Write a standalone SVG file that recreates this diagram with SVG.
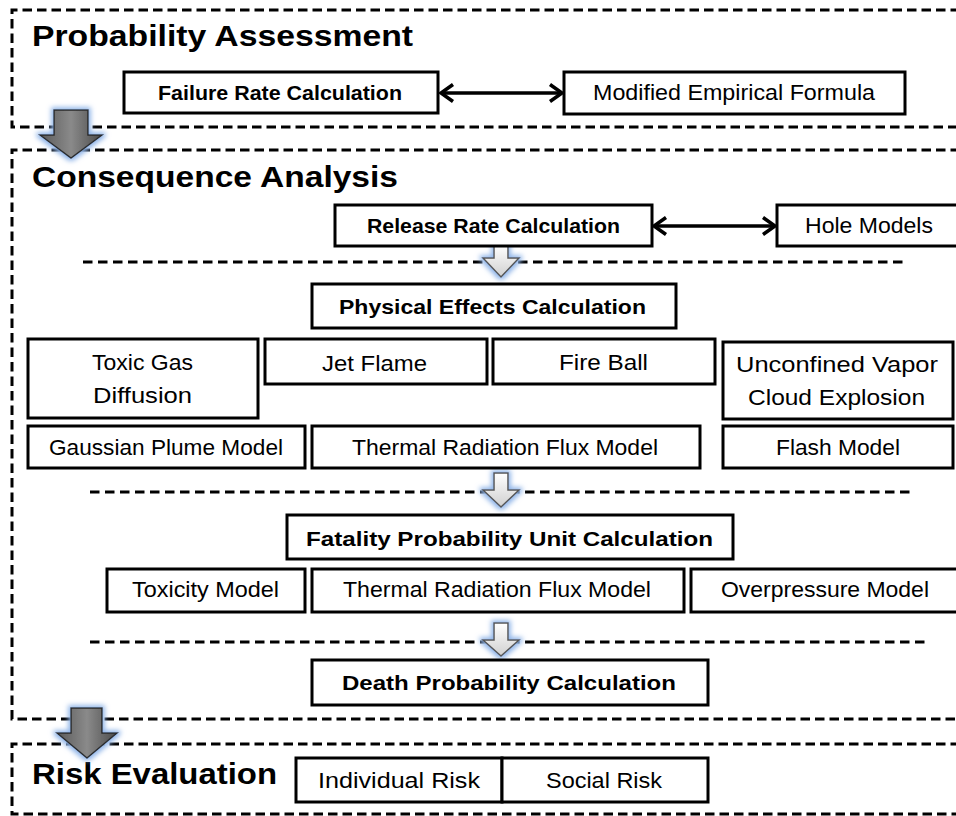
<svg xmlns="http://www.w3.org/2000/svg" width="956" height="816" viewBox="0 0 956 816">
<defs>
<style>
.frame{fill:none;stroke:#000;stroke-width:3;stroke-dasharray:9.5 5}
.sep{fill:none;stroke:#000;stroke-width:3;stroke-dasharray:9.5 5.5}
.box{fill:#fff;stroke:#000;stroke-width:3}
.title{font-family:"Liberation Sans",Arial,sans-serif;font-weight:bold;font-size:30px;fill:#000}
.t{font-family:"Liberation Sans",Arial,sans-serif;font-size:22px;fill:#000;text-anchor:middle}
.b{font-family:"Liberation Sans",Arial,sans-serif;font-size:21px;font-weight:bold;fill:#000;text-anchor:middle}
.conn{fill:none;stroke:#000;stroke-width:3.5}
.big{fill:url(#gDark);stroke:#2a2a2a;stroke-width:1.5;filter:url(#glow)}
.small{fill:url(#gLight);stroke:#555;stroke-width:1.5;filter:url(#glow)}
</style>
<linearGradient id="gDark" x1="0" y1="0" x2="1" y2="0">
<stop offset="0" stop-color="#5a5a5a"/><stop offset="0.5" stop-color="#8a8a8a"/><stop offset="1" stop-color="#4a4a4a"/>
</linearGradient>
<linearGradient id="gLight" x1="0" y1="0" x2="0" y2="1">
<stop offset="0" stop-color="#ffffff"/><stop offset="1" stop-color="#d0d0d0"/>
</linearGradient>
<filter id="glow" x="-50%" y="-50%" width="200%" height="200%">
<feMorphology in="SourceAlpha" operator="dilate" radius="2" result="d"/>
<feGaussianBlur in="d" stdDeviation="2.5" result="bl"/>
<feFlood flood-color="#8fb4e8"/>
<feComposite in2="bl" operator="in" result="g"/>
<feMerge><feMergeNode in="g"/><feMergeNode in="SourceGraphic"/></feMerge>
</filter>
<marker id="chev" markerUnits="userSpaceOnUse" markerWidth="20" markerHeight="20" viewBox="0 0 20 20" refX="15" refY="10" orient="auto-start-reverse">
<path d="M3,1.5 L15,10 L3,18.5" fill="none" stroke="#000" stroke-width="3.5"/>
</marker>
</defs>
<rect width="956" height="816" fill="#fff"/>

<g id="frames">
<path class="frame" d="M960,10 H12 V127 H960"/>
<path class="frame" d="M960,150 H12 V719 H960"/>
<path class="frame" d="M960,744 H12 V814 H960"/>
<path class="sep" d="M83,262 H907"/>
<path class="sep" d="M90,492 H915"/>
<path class="sep" d="M90,642 H930"/>
</g>

<g id="titles">
<text class="title" x="32" y="46" textLength="381" lengthAdjust="spacingAndGlyphs">Probability Assessment</text>
<text class="title" x="32" y="187" textLength="366" lengthAdjust="spacingAndGlyphs">Consequence Analysis</text>
<text class="title" x="32" y="784" textLength="245" lengthAdjust="spacingAndGlyphs">Risk Evaluation</text>
</g>

<g id="connectors">
<line class="conn" x1="441" y1="93" x2="562" y2="93" marker-start="url(#chev)" marker-end="url(#chev)"/>
<line class="conn" x1="654" y1="226" x2="775" y2="226" marker-start="url(#chev)" marker-end="url(#chev)"/>
<path class="big" d="M54,110 H88 V135 H102 L71,158 L40,135 H54 Z"/>
<path class="big" d="M71,708 H102 V733 H117 L87,758 L57,733 H71 Z"/>
<path class="small" d="M494,245 H508 V258 H519 L501,277 L483,258 H494 Z"/>
<path class="small" d="M494,473 H508 V490 H519 L501,507 L483,490 H494 Z"/>
<path class="small" d="M494,623 H508 V640 H519 L501,656 L483,640 H494 Z"/>
</g>

<g id="n-failure"><rect class="box" x="124" y="72" width="314" height="41"/><text class="b" x="280" y="100" textLength="244" lengthAdjust="spacingAndGlyphs">Failure Rate Calculation</text></g>
<g id="n-empirical"><rect class="box" x="564" y="72" width="341" height="42"/><text class="t" x="734" y="100" textLength="282" lengthAdjust="spacingAndGlyphs">Modified Empirical Formula</text></g>

<g id="n-release"><rect class="box" x="335" y="205" width="317" height="41"/><text class="b" x="493.5" y="233" textLength="253" lengthAdjust="spacingAndGlyphs">Release Rate Calculation</text></g>
<g id="n-hole"><rect class="box" x="777" y="205" width="200" height="41"/><text class="t" x="869" y="233" textLength="128" lengthAdjust="spacingAndGlyphs">Hole Models</text></g>

<g id="n-physical"><rect class="box" x="312" y="284" width="364" height="44"/><text class="b" x="492.5" y="314" textLength="307" lengthAdjust="spacingAndGlyphs">Physical Effects Calculation</text></g>

<g id="n-toxicgas"><rect class="box" x="28" y="339" width="230" height="79"/><text class="t" x="142.5" y="370" textLength="101" lengthAdjust="spacingAndGlyphs">Toxic Gas</text><text class="t" x="142.5" y="403" textLength="99" lengthAdjust="spacingAndGlyphs">Diffusion</text></g>
<g id="n-jet"><rect class="box" x="265" y="339" width="222" height="45"/><text class="t" x="374.5" y="371" textLength="105" lengthAdjust="spacingAndGlyphs">Jet Flame</text></g>
<g id="n-fireball"><rect class="box" x="493" y="339" width="222" height="45"/><text class="t" x="603.5" y="370" textLength="89" lengthAdjust="spacingAndGlyphs">Fire Ball</text></g>
<g id="n-uvce"><rect class="box" x="723" y="342" width="230" height="77"/><text class="t" x="837" y="372" textLength="202" lengthAdjust="spacingAndGlyphs">Unconfined Vapor</text><text class="t" x="836.5" y="405" textLength="177" lengthAdjust="spacingAndGlyphs">Cloud Explosion</text></g>

<g id="n-gaussian"><rect class="box" x="28" y="426" width="277" height="42"/><text class="t" x="166" y="455" textLength="234" lengthAdjust="spacingAndGlyphs">Gaussian Plume Model</text></g>
<g id="n-thermal1"><rect class="box" x="312" y="426" width="388" height="42"/><text class="t" x="505" y="455" textLength="306" lengthAdjust="spacingAndGlyphs">Thermal Radiation Flux Model</text></g>
<g id="n-flash"><rect class="box" x="723" y="426" width="230" height="42"/><text class="t" x="838" y="455" textLength="124" lengthAdjust="spacingAndGlyphs">Flash Model</text></g>

<g id="n-fatality"><rect class="box" x="287" y="515" width="446" height="44"/><text class="b" x="509.5" y="546" textLength="407" lengthAdjust="spacingAndGlyphs">Fatality Probability Unit Calculation</text></g>

<g id="n-toxicity"><rect class="box" x="107" y="569" width="198" height="43"/><text class="t" x="205.5" y="597" textLength="147" lengthAdjust="spacingAndGlyphs">Toxicity Model</text></g>
<g id="n-thermal2"><rect class="box" x="312" y="569" width="372" height="43"/><text class="t" x="497" y="597" textLength="308" lengthAdjust="spacingAndGlyphs">Thermal Radiation Flux Model</text></g>
<g id="n-overpressure"><rect class="box" x="691" y="569" width="290" height="43"/><text class="t" x="825" y="597" textLength="208" lengthAdjust="spacingAndGlyphs">Overpressure Model</text></g>

<g id="n-death"><rect class="box" x="312" y="660" width="396" height="45"/><text class="b" x="509" y="690" textLength="334" lengthAdjust="spacingAndGlyphs">Death Probability Calculation</text></g>

<g id="n-individual"><rect class="box" x="296" y="758" width="206" height="44"/><text class="t" x="399" y="788" textLength="162" lengthAdjust="spacingAndGlyphs">Individual Risk</text></g>
<g id="n-social"><rect class="box" x="502" y="758" width="206" height="44"/><text class="t" x="604" y="788" textLength="116" lengthAdjust="spacingAndGlyphs">Social Risk</text></g>
</svg>
